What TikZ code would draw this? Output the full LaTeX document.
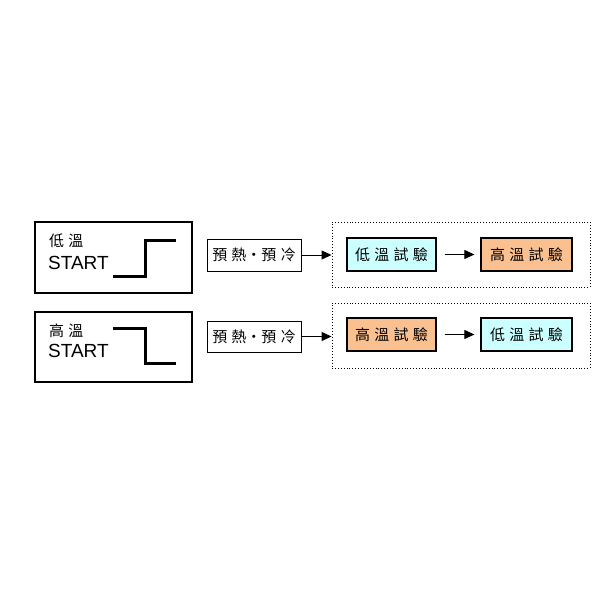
\documentclass[tikz,border=0pt]{standalone}
\usepackage{fontspec}
\setmainfont{Liberation Sans}
\newfontfamily\cjk{Noto Sans CJK TC}
\usetikzlibrary{arrows.meta}
\definecolor{lowtemp}{RGB}{204,255,255}
\definecolor{hightemp}{RGB}{250,192,144}
\newcommand{\gap}{\hspace{0.28em}}
\tikzset{
  startbox/.style={draw,line width=1.2pt,minimum width=157pt,minimum height=71pt,inner sep=0pt},
  prebox/.style={draw,line width=1pt,minimum width=94pt,minimum height=32pt,inner sep=0pt,font=\cjk\fontsize{15}{15}\selectfont},
  testbox/.style={draw,line width=1.2pt,minimum height=33pt,inner sep=0pt,font=\cjk\fontsize{15}{15}\selectfont},
  groupbox/.style={draw,dotted,line width=0.9pt,minimum width=258pt,minimum height=65pt,inner sep=0pt},
  stepline/.style={line width=3pt},
  flow/.style={-{Triangle[length=10pt,width=9pt]},line width=1pt}
}
\begin{document}
\begin{tikzpicture}[x=1pt,y=-1pt]
\useasboundingbox (0,0) rectangle (600,600);
% row 1: low temperature start
\node[startbox] (start1) at (113.5,257.5) {};
\node[anchor=west,inner sep=0pt,font=\cjk\fontsize{15}{15}\selectfont] (low1) at (49,241) {低\gap 溫};
\node[anchor=west,inner sep=0pt,font=\fontsize{19}{19}\selectfont] (go1) at (48,263) {START};
\draw[stepline] (113,276) -- (145,276) -- (145,240) -- (176,240);
\node[prebox] (pre1) at (254,255) {預\gap 熱・預\gap 冷};
\node[groupbox] (grp1) at (461,254.5) {};
\node[testbox,fill=lowtemp,minimum width=89pt] (test1a) at (391.5,254.5) {低\gap 溫\gap 試\gap 驗};
\node[testbox,fill=hightemp,minimum width=91pt] (test1b) at (526.5,254.5) {高\gap 溫\gap 試\gap 驗};
\draw[flow] (pre1.east) -- (grp1.west |- pre1.east);
\draw[flow,shorten <=8pt,shorten >=6pt] (test1a) -- (test1b);
% row 2: high temperature start
\node[startbox,minimum height=70pt] (start2) at (113.5,347) {};
\node[anchor=west,inner sep=0pt,font=\cjk\fontsize{15}{15}\selectfont] (high2) at (49,331) {高\gap 溫};
\node[anchor=west,inner sep=0pt,font=\fontsize{19}{19}\selectfont] (go2) at (48,351) {START};
\draw[stepline] (113,328) -- (145,328) -- (145,363) -- (176,363);
\node[prebox,minimum height=31pt] (pre2) at (254,336.5) {預\gap 熱・預\gap 冷};
\node[groupbox] (grp2) at (461,335.5) {};
\node[testbox,fill=hightemp,minimum width=89pt] (test2a) at (391.5,334.5) {高\gap 溫\gap 試\gap 驗};
\node[testbox,fill=lowtemp,minimum width=91pt] (test2b) at (526.5,334.5) {低\gap 溫\gap 試\gap 驗};
\draw[flow] (pre2.east) -- (grp2.west |- pre2.east);
\draw[flow,shorten <=8pt,shorten >=6pt] (test2a) -- (test2b);
\end{tikzpicture}
\end{document}
